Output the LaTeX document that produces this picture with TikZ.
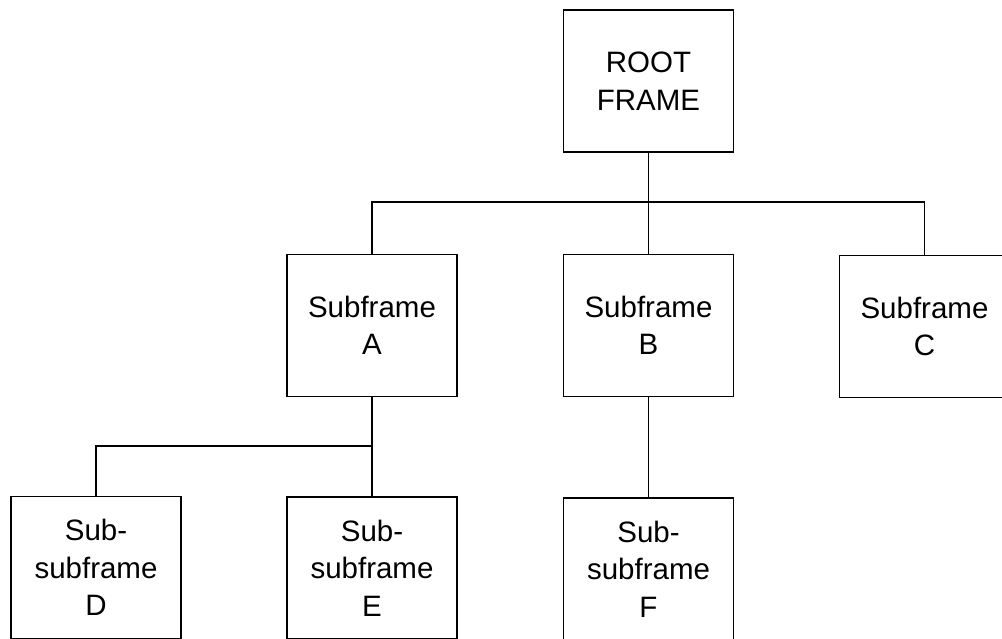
\documentclass[tikz,border=0pt]{standalone}
\usepackage{fontspec}
\setmainfont{Liberation Sans}
\begin{document}
\begin{tikzpicture}[x=1pt,y=-1pt,
  framebox/.style={draw,line width=1.3pt,minimum width=170pt,minimum height=142pt,
    inner sep=0pt,align=center,font=\fontsize{29.5}{37.5}\selectfont},
  conn/.style={line width=1.1pt}]
\useasboundingbox (0,0) rectangle (1002,639);
\clip (0,0) rectangle (1002,639);
\node[framebox] (root) at (648.5,81) {ROOT\\FRAME};
\node[framebox] (A) at (372,325.5) {Subframe\\A};
\node[framebox] (B) at (648.5,325.5) {Subframe\\B};
\node[framebox] (C) at (924.5,326.5) {Subframe\\C};
\node[framebox] (D) at (96,567.5) {Sub-\\subframe\\D};
\node[framebox] (E) at (372,568) {Sub-\\subframe\\E};
\node[framebox] (F) at (648.5,569) {Sub-\\subframe\\F};
\coordinate (bar1) at (0,202);
\coordinate (bar2) at (0,446);
\draw[conn] (root.south) -- (B.north);
\draw[conn] (A.north) -- (A.north |- bar1) -- (C.north |- bar1) -- (C.north);
\draw[conn] (A.south) -- (E.north);
\draw[conn] (A.south |- bar2) -- (D.north |- bar2) -- (D.north);
\draw[conn] (B.south) -- (F.north);
\end{tikzpicture}
\end{document}
